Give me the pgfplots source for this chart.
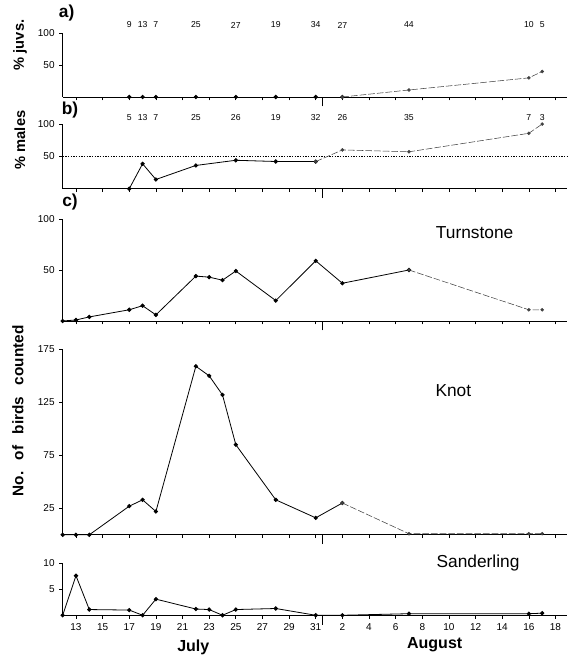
\documentclass[border=0pt]{standalone}
\usepackage{fontspec}
\setmainfont{Liberation Sans}
\usepackage{pgfplots}
\pgfplotsset{compat=1.18}

\pgfplotstableread{
day val
17 0
18 0
19 0
22 0
25 0
28 0
31 0
33 0
38 11
47 30
48 40
}\juvs
\pgfplotstableread{
day val
17 0
18 38.5
19 14.3
22 36
25 44
28 42.1
31 42
33 60
38 57.1
47 85.7
48 100
}\males
\pgfplotstableread{
day val
12 0
13 1
14 4
17 11
18 15
19 6
22 44
23 43
24 40
25 49
28 20
31 59
33 37
38 50
47 11
48 11
}\turnstone
\pgfplotstableread{
day val
12 0
13 0
14 0
17 27
18 33
19 22
22 159
23 150
24 132
25 85
28 33
31 16
33 30
38 1
47 1
48 1
}\knot
\pgfplotstableread{
day val
12 0
13 7.6
14 1.1
17 1.0
18 0
19 3.1
22 1.2
23 1.1
24 0
25 1.1
28 1.3
31 0
33 0
38 0.3
47 0.3
48 0.4
}\sanderling

\pgfplotsset{
  panel/.style={
    scale only axis, width=378.6pt, xmin=12, xmax=49.9, ymin=0,
    axis x line*=bottom, axis y line*=left,
    tick align=outside,
    xtick={13,15,17,19,21,23,25,27,29,31,33,35,37,39,41,43,45,47,49},
    xticklabels={},
    major tick length=2.5pt,
    extra x ticks={31.5}, extra x tick labels={},
    extra x tick style={major tick length=7pt},
    tick style={black, line width=0.5pt},
    axis line style={black, line width=0.6pt, -},
    ticklabel style={font=\fontsize{7.5}{8}\selectfont},
    /pgf/number format/assume math mode=true,
    clip=false,
    anchor=south west,
  },
  dl/.style={black, line width=0.6pt, mark=*, mark size=1.3pt, mark options={solid}},
  fl/.style={black!75, line width=0.4pt, dash pattern=on 5pt off 1.5pt, mark=*, mark size=1.1pt, mark options={solid}},
}

\begin{document}
\begin{tikzpicture}
\useasboundingbox (0,0) rectangle (426pt,492.75pt);

% a) % juveniles
\begin{axis}[panel, at={(47pt,420pt)}, height=47.8pt, ymax=100, ytick={50,100}]
\addplot[dl] table[x=day,y=val, restrict x to domain=12:33] {\juvs};
\addplot[fl] table[x=day,y=val, restrict x to domain=33:48] {\juvs};
\begin{scope}[font=\fontsize{6.5}{7}\selectfont]
\node at (axis cs:17,113) {9};
\node at (axis cs:18,113) {13};
\node at (axis cs:19,113) {7};
\node at (axis cs:22,113) {25};
\node at (axis cs:25,113) {27};
\node at (axis cs:28,113) {19};
\node at (axis cs:31,113) {34};
\node at (axis cs:33,113) {27};
\node at (axis cs:38,113) {44};
\node at (axis cs:47,113) {10};
\node at (axis cs:48,113) {5};
\end{scope}
\end{axis}

% b) % males
\begin{axis}[panel, at={(47pt,351.2pt)}, height=48.5pt, ymax=100, ytick={50,100}]
\addplot[black, line width=1pt, densely dotted] coordinates {(12,50) (49.9,50)};
\addplot[dl] table[x=day,y=val, restrict x to domain=12:31] {\males};
\addplot[fl] table[x=day,y=val, restrict x to domain=31:48] {\males};
\begin{scope}[font=\fontsize{6.5}{7}\selectfont]
\node at (axis cs:17,110) {5};
\node at (axis cs:18,110) {13};
\node at (axis cs:19,110) {7};
\node at (axis cs:22,110) {25};
\node at (axis cs:25,110) {26};
\node at (axis cs:28,110) {19};
\node at (axis cs:31,110) {32};
\node at (axis cs:33,110) {26};
\node at (axis cs:38,110) {35};
\node at (axis cs:47,110) {7};
\node at (axis cs:48,110) {3};
\end{scope}
\end{axis}

% c) Turnstone
\begin{axis}[panel, at={(47pt,252pt)}, height=76.5pt, ymax=100, ytick={50,100}]
\addplot[dl] table[x=day,y=val, restrict x to domain=12:38] {\turnstone};
\addplot[fl] table[x=day,y=val, restrict x to domain=38:48] {\turnstone};
\end{axis}

% Knot
\begin{axis}[panel, at={(47pt,91.65pt)}, height=139.1pt, ymax=175, ytick={25,75,125,175}]
\addplot[dl] table[x=day,y=val, restrict x to domain=12:33] {\knot};
\addplot[fl] table[x=day,y=val, restrict x to domain=33:48] {\knot};
\end{axis}

% Sanderling
\begin{axis}[panel, at={(47pt,31.3pt)}, height=39pt, ymax=10, ytick={5,10},
  xticklabels={13,15,17,19,21,23,25,27,29,31,2,4,6,8,10,12,14,16,18}]
\addplot[dl] table[x=day,y=val] {\sanderling};
\end{axis}

% panel letters and titles
\node[font=\bfseries\fontsize{13}{13}\selectfont] at (50pt,483pt) {a)};
\node[font=\bfseries\fontsize{13}{13}\selectfont] at (52.5pt,410.5pt) {b)};
\node[font=\bfseries\fontsize{13}{13}\selectfont] at (52.5pt,341.5pt) {c)};
\node[font=\fontsize{13}{13}\selectfont] at (356pt,318pt) {Turnstone};
\node[font=\fontsize{13}{13}\selectfont] at (340pt,199.5pt) {Knot};
\node[font=\fontsize{13}{13}\selectfont] at (358.5pt,70.5pt) {Sanderling};
\node[font=\bfseries\fontsize{12}{12}\selectfont] at (145pt,7pt) {July};
\node[font=\bfseries\fontsize{12}{12}\selectfont] at (326pt,9pt) {August};
\node[rotate=90, font=\bfseries\fontsize{11}{11}\selectfont] at (15pt,459pt) {\% juvs.};
\node[rotate=90, font=\bfseries\fontsize{11}{11}\selectfont] at (15pt,387.75pt) {\% males};
\node[rotate=90, font=\bfseries\fontsize{11.5}{11.5}\selectfont] at (13.5pt,184.5pt) {No.\hspace{0.75em}of\hspace{0.75em}birds\hspace{0.75em}counted};
\end{tikzpicture}
\end{document}
